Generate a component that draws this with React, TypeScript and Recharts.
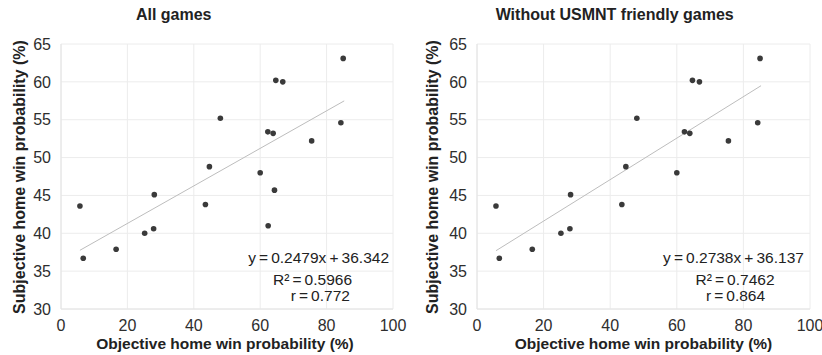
import React from 'react';
import { ScatterChart, Scatter, XAxis, YAxis, CartesianGrid, ReferenceLine } from 'recharts';

const FONT = '"Liberation Sans", Arial, Helvetica, sans-serif';

const xTicks = [0, 20, 40, 60, 80, 100];
const yTicks = [30, 35, 40, 45, 50, 55, 60, 65];

// objective (x) vs subjective (y) home win probability, one point per game
const allGames = [
  { x: 5.7, y: 43.6 },
  { x: 6.7, y: 36.7 },
  { x: 16.6, y: 37.9 },
  { x: 25.2, y: 40.0 },
  { x: 27.9, y: 40.6 },
  { x: 28.1, y: 45.1 },
  { x: 43.5, y: 43.8 },
  { x: 44.7, y: 48.8 },
  { x: 48.0, y: 55.2 },
  { x: 60.0, y: 48.0 },
  { x: 62.4, y: 41.0 },
  { x: 62.3, y: 53.4 },
  { x: 63.9, y: 53.2 },
  { x: 64.3, y: 45.7 },
  { x: 64.7, y: 60.2 },
  { x: 66.8, y: 60.0 },
  { x: 75.5, y: 52.2 },
  { x: 84.3, y: 54.6 },
  { x: 85.0, y: 63.1 },
];

// same set minus the two USMNT friendlies
const withoutFriendlies = [
  { x: 5.7, y: 43.6 },
  { x: 6.7, y: 36.7 },
  { x: 16.6, y: 37.9 },
  { x: 25.2, y: 40.0 },
  { x: 27.9, y: 40.6 },
  { x: 28.1, y: 45.1 },
  { x: 43.5, y: 43.8 },
  { x: 44.7, y: 48.8 },
  { x: 48.0, y: 55.2 },
  { x: 60.0, y: 48.0 },
  { x: 62.3, y: 53.4 },
  { x: 63.9, y: 53.2 },
  { x: 64.7, y: 60.2 },
  { x: 66.8, y: 60.0 },
  { x: 75.5, y: 52.2 },
  { x: 84.3, y: 54.6 },
  { x: 85.0, y: 63.1 },
];

const allFit = { slope: 0.2479, intercept: 36.342, r2: '0.5966', r: '0.772' };
const noFriendlyFit = { slope: 0.2738, intercept: 36.137, r2: '0.7462', r: '0.864' };
const fitRange = [5.7, 85.3];

const T = '\u2009';

const Dot = (props: any) => <circle cx={props.cx} cy={props.cy} r={2.8} fill="#3a3a3a" />;

interface PanelProps {
  left: number;
  title: string;
  titleX: number;
  data: { x: number; y: number }[];
  fit: { slope: number; intercept: number; r2: string; r: string };
  axisWidth: number;
  rightMargin: number;
  yLabelX: number;
  xLabelX: number;
  eqX: number[];
}

function Panel({ left, title, titleX, data, fit, axisWidth, rightMargin, yLabelX, xLabelX, eqX }: PanelProps) {
  const seg = fitRange.map((x) => ({ x, y: fit.slope * x + fit.intercept }));
  const eqLines = [
    `y${T}=${T}${fit.slope}x${T}+${T}${fit.intercept}`,
    `R²${T}=${T}${fit.r2}`,
    `r${T}=${T}${fit.r}`,
  ];
  const eqBaselines = [263.3, 285, 301.3];
  const text: React.CSSProperties = { position: 'absolute', fontFamily: FONT, color: '#222', whiteSpace: 'nowrap' };

  return (
    <div style={{ position: 'absolute', left, top: 0, width: 411, height: 355 }}>
      <ScatterChart width={411} height={355} margin={{ top: 44, right: rightMargin, bottom: 0, left: 0 }}>
        <CartesianGrid stroke="#ececec" />
        <XAxis
          type="number"
          dataKey="x"
          domain={[0, 100]}
          ticks={xTicks}
          interval={0}
          height={46}
          axisLine={{ stroke: '#e4e4e4' }}
          tickLine={false}
          tickMargin={5}
          tick={{ fill: '#2e2e2e', fontSize: 16, fontFamily: FONT }}
        />
        <YAxis
          type="number"
          dataKey="y"
          domain={[30, 65]}
          ticks={yTicks}
          interval={0}
          width={axisWidth}
          axisLine={{ stroke: '#e4e4e4' }}
          tickLine={false}
          tickMargin={4}
          tick={{ fill: '#2e2e2e', fontSize: 16, fontFamily: FONT }}
        />
        <ReferenceLine segment={seg} stroke="#bdbdbd" strokeWidth={1} />
        <Scatter data={data} shape={Dot} isAnimationActive={false} />
      </ScatterChart>

      <div style={{ ...text, left: titleX - 150, top: 7, width: 300, textAlign: 'center', fontSize: 16, lineHeight: '16px', fontWeight: 700 }}>
        {title}
      </div>
      <div style={{ ...text, left: xLabelX - 180, top: 336, width: 360, textAlign: 'center', fontSize: 15.5, lineHeight: '15.5px', fontWeight: 700 }}>
        Objective home win probability (%)
      </div>
      <div
        style={{
          ...text,
          left: yLabelX - 160,
          top: 176.5 - 10,
          width: 320,
          height: 20,
          textAlign: 'center',
          fontSize: 16,
          lineHeight: '20px',
          fontWeight: 700,
          transform: 'rotate(-90deg)',
        }}
      >
        Subjective home win probability (%)
      </div>
      {eqLines.map((line, i) => (
        <div
          key={i}
          style={{ ...text, left: eqX[i] - 100, top: eqBaselines[i] - 13.1, width: 200, textAlign: 'center', fontSize: 15.5, lineHeight: '15.5px' }}
        >
          {line}
        </div>
      ))}
    </div>
  );
}

export default function App() {
  return (
    <div style={{ position: 'absolute', left: 0, top: 0, width: 822, height: 355, background: '#fff' }}>
      <Panel
        left={0}
        title="All games"
        titleX={173.7}
        data={allGames}
        fit={allFit}
        axisWidth={61}
        rightMargin={18}
        yLabelX={19.5}
        xLabelX={225}
        eqX={[318.6, 312.5, 320.3]}
      />
      <Panel
        left={411}
        title="Without USMNT friendly games"
        titleX={203.7}
        data={withoutFriendlies}
        fit={noFriendlyFit}
        axisWidth={66}
        rightMargin={12}
        yLabelX={21.5}
        xLabelX={232.5}
        eqX={[322.5, 324, 324.5]}
      />
    </div>
  );
}
